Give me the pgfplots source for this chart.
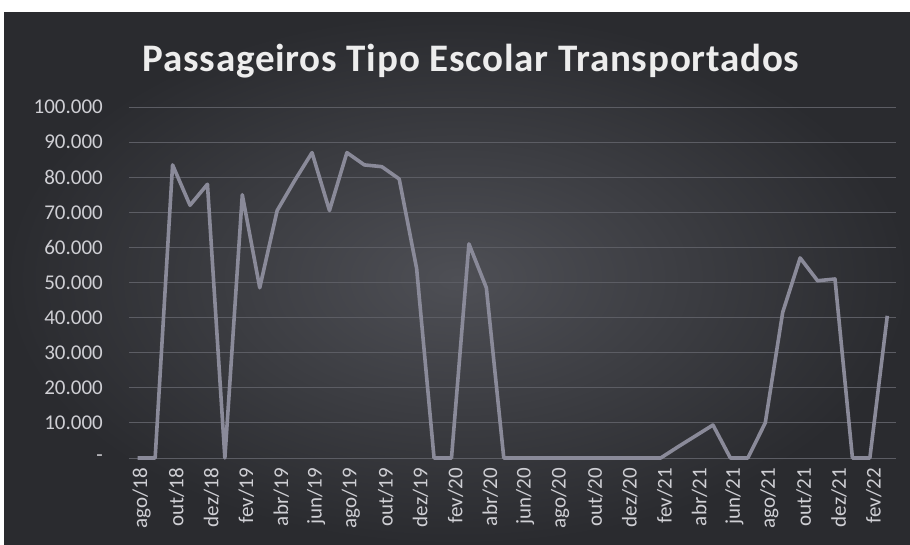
\documentclass[border=0pt]{standalone}
\usepackage{fontspec}
\setmainfont{Carlito}
\newfontfamily\titlefont[LetterSpace=2]{Carlito}
\usepackage{pgfplots}
\pgfplotsset{compat=1.18}
\definecolor{bgin}{HTML}{4E4F55}
\definecolor{bgout}{HTML}{2A2B2F}
\definecolor{linec}{HTML}{8A8A99}
\definecolor{gridc}{HTML}{5C5D64}
\definecolor{labc}{HTML}{CFCFD4}
\definecolor{titc}{HTML}{EDEDED}
\pgfplotstableread{
x y
0 0
1 0
2 83500
3 72000
4 78000
5 0
6 75000
7 48500
8 70500
9 79000
10 87000
11 70500
12 87000
13 83500
14 83000
15 79500
16 54000
17 0
18 0
19 61000
20 48500
21 0
22 0
23 0
24 0
25 0
26 0
27 0
28 0
29 0
30 0
31 3200
32 6300
33 9400
34 0
35 0
36 10000
37 41500
38 57000
39 50500
40 51000
41 0
42 0
43 40500
}\datatable
\begin{document}
\begin{tikzpicture}[x=1pt,y=1pt]
\useasboundingbox (0,0) rectangle (910,545);
\fill[white] (0,0) rectangle (910,545);
\shade[inner color=bgin, outer color=bgout] (4,0) rectangle (910,532);
\node[text=titc, anchor=base, font=\titlefont\bfseries\fontsize{39}{44}\selectfont] at (471,473) {Passageiros Tipo Escolar Transportados};
\begin{axis}[
  at={(129pt,87pt)}, anchor=south west,
  scale only axis, width=767pt, height=351pt,
  xmin=-0.5, xmax=43.5, ymin=0, ymax=100000,
  scaled y ticks=false,
  axis line style={draw=none},
  major tick length=0pt,
  xtick={0,2,...,42},
  xticklabels={ago/18,out/18,dez/18,fev/19,abr/19,jun/19,ago/19,out/19,dez/19,fev/20,abr/20,jun/20,ago/20,out/20,dez/20,fev/21,abr/21,jun/21,ago/21,out/21,dez/21,fev/22},
  xticklabel style={rotate=90, anchor=east, text=labc, font=\fontsize{21}{24}\selectfont, inner sep=0pt, xshift=-10pt, yshift=-4pt},
  ytick={0,10000,...,100000},
  yticklabels={-\hspace{10pt},10.000,20.000,30.000,40.000,50.000,60.000,70.000,80.000,90.000,100.000},
  yticklabel style={anchor=east, text=labc, font=\fontsize{21}{24}\selectfont, inner sep=0pt, xshift=-26pt},
  ymajorgrids=true,
  major grid style={draw=gridc, line width=0.8pt},
  clip=false,
]
\addplot[linec, line width=3.6pt, line join=round, mark=none] table[x=x,y=y] {\datatable};
\end{axis}
\end{tikzpicture}
\end{document}
